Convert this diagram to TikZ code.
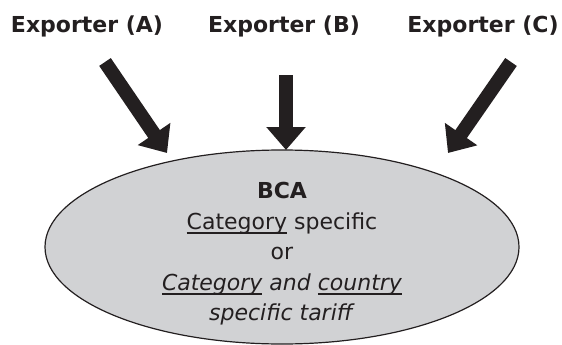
\documentclass[tikz,border=0pt]{standalone}
\usepackage{fontspec}
\setmainfont{DejaVu Sans}
\usetikzlibrary{shapes.geometric,arrows.meta}
\definecolor{ink}{HTML}{231F20}
\definecolor{fillgray}{HTML}{D1D2D4}
\newcommand\ulin[1]{\setbox0=\hbox{#1}\rlap{\rule[-4.5pt]{\wd0}{1.3pt}}\box0\relax}
\tikzset{
  title/.style={font=\bfseries\fontsize{22}{26}\selectfont, text=ink, anchor=base, inner sep=0pt},
  bigarrow/.style={draw=ink, line width=14pt, -{Triangle[width=38pt,length=23pt]}},
  oval/.style={ellipse, draw=ink, line width=1.2pt, fill=fillgray, minimum width=474pt, minimum height=194pt, inner sep=0pt},
  body/.style={font=\fontsize{22}{30.5}\selectfont, text=ink, align=center, inner sep=0pt, anchor=north}
}
\begin{document}
\begin{tikzpicture}[x=1pt,y=-1pt]
\useasboundingbox (0,0) rectangle (562,345);
\node[title] (expA) at (87,33) {Exporter (A)};
\node[title] (expB) at (284,33) {Exporter (B)};
\node[title] (expC) at (483,33) {Exporter (C)};
\node[oval] (bca) at (282,247) {};
\node[body] (txt) at (282,182) {\textbf{BCA}\\\ulin{Category} specific\\or\\\textit{\ulin{Category} and \ulin{country}}\\\textit{specific tariff}};
\coordinate (tailA) at (105,62);
\coordinate (tipA) at (167,153);
\coordinate (tailB) at (286,75);
\coordinate (tipB) at (286,150);
\coordinate (tailC) at (511,62);
\coordinate (tipC) at (448,153);
\draw[bigarrow] (tailA) -- (tipA);
\draw[bigarrow] (tailB) -- (tipB);
\draw[bigarrow] (tailC) -- (tipC);
\end{tikzpicture}
\end{document}
